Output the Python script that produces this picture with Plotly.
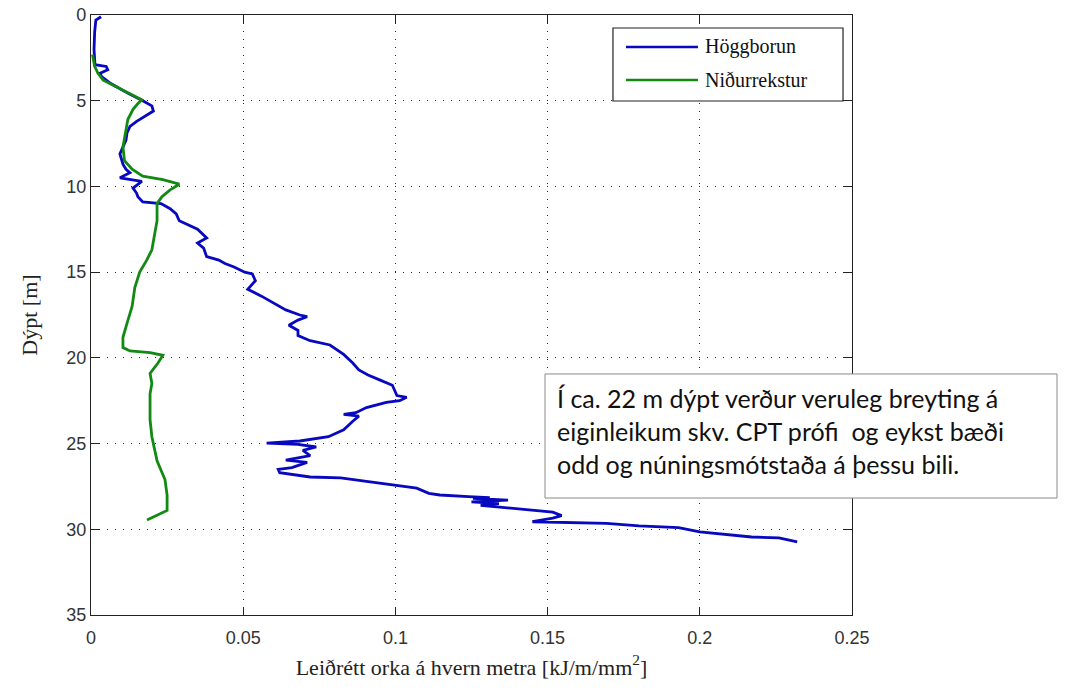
import plotly.graph_objects as go

# ---- data ----
series_names = ["Höggborun", "Niðurrekstur"]
series_colors = ["#0808c0", "#128a12"]

hogg_depth = [0.1, 0.3, 1.0, 2.0, 2.9, 3.0, 3.2, 3.4, 3.6, 4.0, 4.2, 4.6, 5.0, 5.3, 5.6, 5.8,
              6.2, 6.5, 6.9, 7.3, 7.7, 8.1, 8.4, 8.7, 9.0, 9.2, 9.5, 9.7, 10.1, 10.4, 10.6,
              10.9, 11.0, 11.3, 11.6, 12.0, 12.5, 13.0, 13.3, 13.6, 14.1, 14.3, 14.5, 14.7,
              15.0, 15.1, 15.5, 16.0, 16.4, 16.8, 17.2, 17.5, 17.6, 17.8, 18.1, 18.4, 18.7,
              19.0, 19.25, 19.8, 20.3, 20.7, 21.0, 21.3, 21.6, 22.2, 22.3, 22.5, 22.6, 22.9,
              23.2, 23.3, 23.4, 23.7, 24.2, 24.6, 24.7, 24.85, 24.97, 25.05, 25.2, 25.4,
              25.7, 25.96, 26.1, 26.4, 26.5, 26.7, 26.95, 27.0, 27.2, 27.4, 27.6, 27.9,
              28.0, 28.1, 28.15, 28.2, 28.3, 28.4, 28.5, 28.6, 28.75, 28.9, 29.0, 29.2,
              29.35, 29.56, 29.58, 29.65, 29.8, 29.9, 30.15, 30.3, 30.45, 30.5, 30.73]
hogg_energy = [0.0033, 0.0016, 0.0012, 0.0010, 0.0013, 0.0050, 0.0055, 0.0030, 0.0035, 0.0065,
               0.0085, 0.0125, 0.0170, 0.0200, 0.0205, 0.0187, 0.0150, 0.0128, 0.0118, 0.0115,
               0.0105, 0.0095, 0.0100, 0.0105, 0.0115, 0.0128, 0.0095, 0.0167, 0.0138, 0.0150,
               0.0154, 0.0170, 0.0230, 0.0260, 0.0280, 0.0290, 0.0350, 0.0380, 0.0350, 0.0370,
               0.0380, 0.0420, 0.0440, 0.0470, 0.0505, 0.0530, 0.0540, 0.0515, 0.0560, 0.0600,
               0.0640, 0.0686, 0.0710, 0.0680, 0.0650, 0.0680, 0.0680, 0.0720, 0.0785, 0.0830,
               0.0860, 0.0880, 0.0910, 0.0950, 0.0990, 0.1005, 0.1037, 0.1014, 0.0970, 0.0905,
               0.0870, 0.0830, 0.0880, 0.0860, 0.0830, 0.0780, 0.0740, 0.0686, 0.0577, 0.0680,
               0.0740, 0.0696, 0.0720, 0.0640, 0.0710, 0.0660, 0.0615, 0.0620, 0.0720, 0.0820,
               0.0905, 0.0990, 0.1070, 0.1110, 0.1146, 0.1240, 0.1310, 0.1255, 0.1370, 0.1250,
               0.1340, 0.1280, 0.1370, 0.1464, 0.1517, 0.1546, 0.1517, 0.1450, 0.1540, 0.1694,
               0.1800, 0.1930, 0.2000, 0.2088, 0.2170, 0.2260, 0.2320]

nidur_depth = [2.3, 3.0, 3.4, 3.8, 4.2, 4.6, 4.95, 5.15, 5.5, 6.1, 6.9, 7.7, 8.5, 9.0, 9.4, 9.6,
               9.87, 10.2, 10.6, 11.0, 12.0, 12.7, 13.7, 14.3, 15.0, 15.9, 17.0, 18.0, 18.8,
               19.4, 19.6, 19.7, 19.85, 20.3, 20.9, 21.5, 22.1, 23.6, 24.6, 26.0, 27.1, 28.0,
               28.9, 29.46]
nidur_energy = [0.0005, 0.0012, 0.0023, 0.0040, 0.0085, 0.0128, 0.0167, 0.0155, 0.0138, 0.0121,
                0.0112, 0.0105, 0.0110, 0.0135, 0.0170, 0.0236, 0.0290, 0.0260, 0.0233, 0.0217,
                0.0217, 0.0210, 0.0200, 0.0183, 0.0160, 0.0144, 0.0135, 0.0118, 0.0105, 0.0105,
                0.0128, 0.0194, 0.0236, 0.0220, 0.0194, 0.0200, 0.0194, 0.0194, 0.0200, 0.0217,
                0.0243, 0.0250, 0.0250, 0.0184]

x_ticks = [0, 0.05, 0.1, 0.15, 0.2, 0.25]
x_tick_labels = ["0", "0.05", "0.1", "0.15", "0.2", "0.25"]
y_ticks = [0, 5, 10, 15, 20, 25, 30, 35]

x_title = "Leiðrétt orka á hvern metra [kJ/m/mm<sup>2</sup>]"
y_title = "Dýpt [m]"
note_lines = ["Í ca. 22 m dýpt verður veruleg breyting á",
              "eiginleikum skv. CPT prófi  og eykst bæði",
              "odd og núningsmótstaða á þessu bili."]

# ---- figure ----
fig = go.Figure()
for name, col, xs, ys in [(series_names[0], series_colors[0], hogg_energy, hogg_depth),
                          (series_names[1], series_colors[1], nidur_energy, nidur_depth)]:
    fig.add_trace(go.Scatter(x=xs, y=ys, mode="lines", name=name,
                             line=dict(color=col, width=2.8), showlegend=False))

serif = "Liberation Serif"
axis_common = dict(showline=True, linecolor="#222", linewidth=1.2, mirror="ticks",
                   ticks="inside", ticklen=8, tickcolor="#222", tickwidth=1.2,
                   showgrid=True, gridcolor="#222", gridwidth=1.2, griddash="1px,7px",
                   zeroline=False, automargin=False, ticklabeloverflow="allow",
                   tickfont=dict(family="Liberation Sans", size=18, color="#333"))

fig.update_xaxes(range=[0, 0.25], tickvals=x_ticks, ticktext=x_tick_labels,
                 ticklabelstandoff=6,
                 title=dict(text=x_title, font=dict(family=serif, size=22, color="#222"),
                            standoff=12), **axis_common)
fig.update_yaxes(range=[35, 0], tickvals=y_ticks,
                 title=dict(text=y_title, font=dict(family=serif, size=22, color="#222"),
                            standoff=22), **axis_common)

# custom legend box (matching the MATLAB-style legend)
lx0, lx1, ly0, ly1 = 0.6859, 0.9882, 0.8567, 0.9783
fig.add_shape(type="rect", xref="paper", yref="paper", x0=lx0, x1=lx1, y0=ly0, y1=ly1,
              line=dict(color="#222", width=1.2), fillcolor="white", layer="above")
leg_y = [0.9467, 0.8917]
for i, name in enumerate(series_names):
    fig.add_shape(type="line", xref="paper", yref="paper", x0=0.703, x1=0.7976,
                  y0=leg_y[i], y1=leg_y[i], line=dict(color=series_colors[i], width=2.6),
                  layer="above")
    fig.add_annotation(xref="paper", yref="paper", x=0.8042, y=leg_y[i], text=name,
                       showarrow=False, xanchor="left", yanchor="middle",
                       font=dict(family=serif, size=20, color="#111"))

# note text box
fig.add_shape(type="rect", xref="paper", yref="paper", x0=0.5966, x1=1.2694, y0=0.195, y1=0.4017,
              line=dict(color="#8a8a8a", width=1), fillcolor="white", layer="above")
note_y = [0.3617, 0.3067, 0.2517]
for txt, yy in zip(note_lines, note_y):
    fig.add_annotation(xref="paper", yref="paper", x=0.6097, y=yy, text=txt, showarrow=False,
                       xanchor="left", yanchor="middle",
                       font=dict(family="Lato", size=25, color="#111"))

fig.update_layout(width=1068, height=689, margin=dict(l=91, r=216, t=15, b=74),
                  paper_bgcolor="white", plot_bgcolor="white", showlegend=False)

# remove the browser's default 8px page margin so the figure fills the window exactly
fig.write_html("out.html", config={"displayModeBar": False},
               post_script="document.body.style.margin='0';")
